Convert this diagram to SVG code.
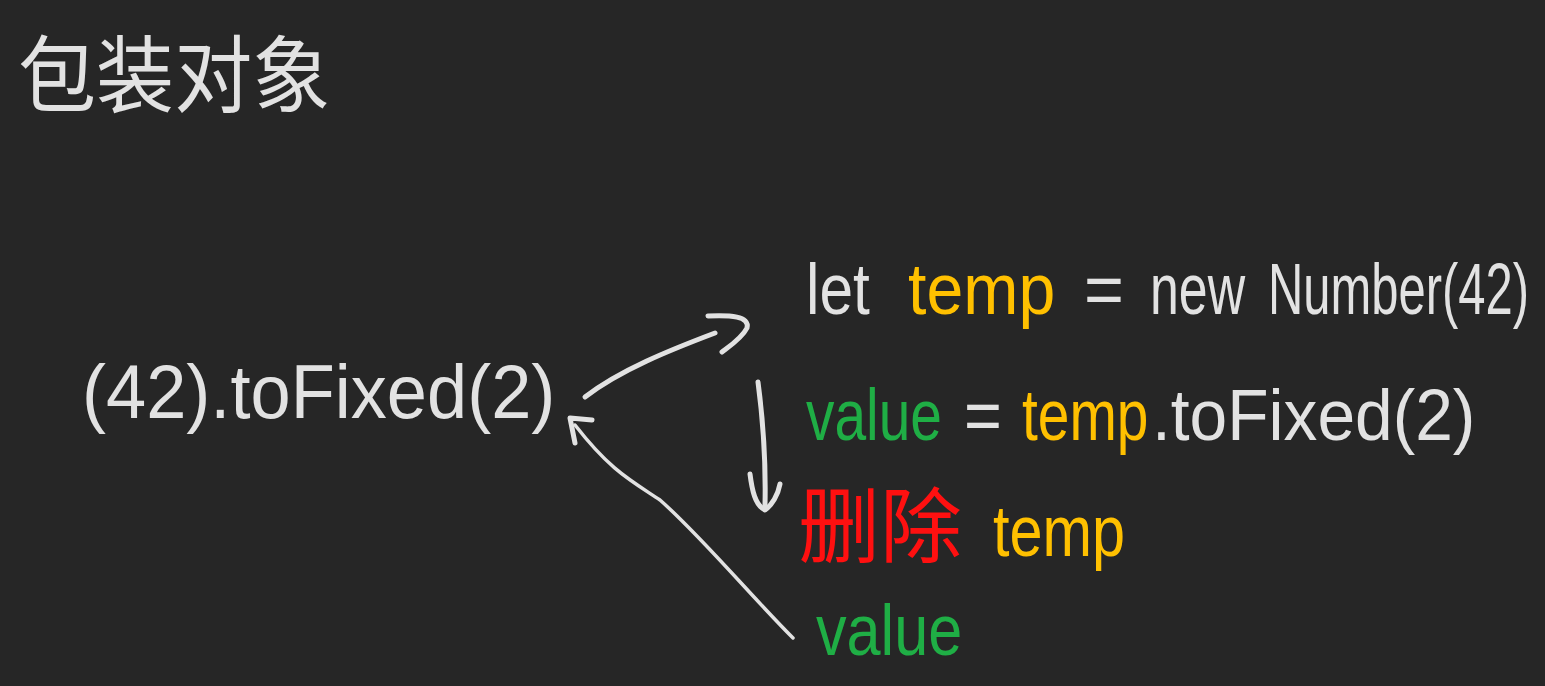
<svg xmlns="http://www.w3.org/2000/svg" width="1545" height="686" viewBox="0 0 1545 686">
<style>
.w{fill:#e2e2e2}
.o{fill:#ffc000}
.g{fill:#1fae45}
.r{fill:#ff1010}
.t{font-family:"Liberation Sans","Noto Sans CJK SC",sans-serif;font-size:72px}
.ln{fill:none;stroke:#e2e2e2;stroke-width:5;stroke-linecap:round;stroke-linejoin:round}
</style>
<rect width="1545" height="686" fill="#262626"/>
<g id="title">
<text class="t w" transform="translate(18 106) scale(0.93 1)" style="font-size:84px">包装对象</text>
</g>
<g id="expr">
<text class="t w" transform="translate(82 418) scale(0.95 1)" style="font-size:76px">(42).toFixed(2)</text>
</g>
<g id="step1">
<text class="t w" transform="translate(806 314) scale(0.84 1)">let</text>
<text class="t o" transform="translate(908 314) scale(0.92 1)">temp</text>
<text class="t w" transform="translate(1084 314) scale(0.95 1)">=</text>
<text class="t w" transform="translate(1150 314) scale(0.72 1)">new</text>
<text class="t w" transform="translate(1268 314) scale(0.68 1)">Number(42)</text>
</g>
<g id="step2">
<text class="t g" transform="translate(806 440) scale(0.79 1)">value</text>
<text class="t w" transform="translate(964 440) scale(0.9 1)">=</text>
<text class="t o" transform="translate(1022 440) scale(0.79 1)">temp</text>
<text class="t w" transform="translate(1152 440) scale(0.94 1)">.toFixed(2)</text>
</g>
<g id="step3">
<text class="t r" transform="translate(798 556)" style="font-size:82px">删除</text>
<text class="t o" transform="translate(993 556) scale(0.825 1)">temp</text>
</g>
<g id="result">
<text class="t g" transform="translate(816 655) scale(0.85 1)">value</text>
</g>
<g id="connectors">
<path class="ln" d="M585 397 C620 370 670 350 715 333"/>
<path class="ln" d="M708 316 C730 315 750 316 747 328 C742 338 730 346 722 352"/>
<path class="ln" d="M758 382 C763 420 766 460 765 505"/>
<path class="ln" d="M750 474 C752 490 755 505 765 510 C772 505 778 495 780 484"/>
<path class="ln" d="M793 638 C750 595 700 535 660 500 C630 480 610 470 575 425" style="stroke-width:3.5"/>
<path class="ln" d="M592 420 L570 418 L575 443"/>
</g>
</svg>
